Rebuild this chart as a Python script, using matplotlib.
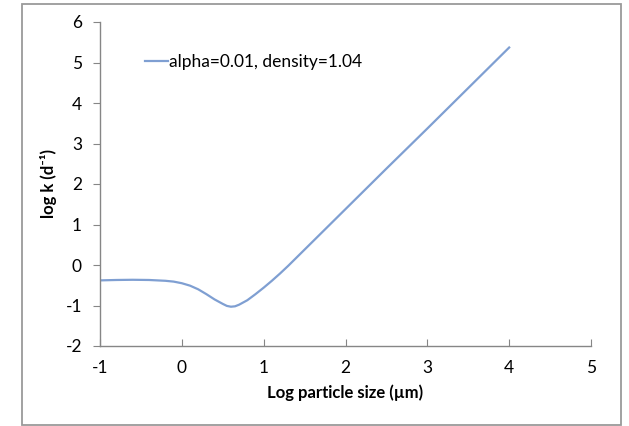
import matplotlib

matplotlib.use("Agg")
import matplotlib.patches as mpatches
import matplotlib.pyplot as plt

# log particle size (um) vs log k (1/d)
log_size = [-1.0, -0.8, -0.6, -0.4, -0.2, -0.1, 0.0, 0.1, 0.2, 0.3, 0.4, 0.5,
            0.55, 0.6, 0.65, 0.7, 0.8, 0.9, 1.0, 1.1, 1.2, 1.3, 1.4, 1.6, 1.8,
            2.0, 2.5, 3.0, 3.5, 4.0]
log_k = [-0.38, -0.37, -0.365, -0.37, -0.39, -0.41, -0.45, -0.51, -0.60,
         -0.72, -0.85, -0.96, -1.01, -1.03, -1.02, -0.98, -0.87, -0.72, -0.56,
         -0.39, -0.21, -0.02, 0.18, 0.58, 0.98, 1.38, 2.38, 3.37, 4.37, 5.37]
series_label = "alpha=0.01, density=1.04"
x_ticks = [-1, 0, 1, 2, 3, 4, 5]
y_ticks = [-2, -1, 0, 1, 2, 3, 4, 5, 6]

plt.rcParams.update({
    "font.family": ["Lato", "DejaVu Sans"],
    "font.size": 12,
    "axes.unicode_minus": False,
})

W, H = 629, 426
fig = plt.figure(figsize=(W / 100, H / 100), dpi=100)
ax = fig.add_axes([100 / W, 1 - 346 / H, 491 / W, 324 / H])

# outer chart frame
fig.patches.append(mpatches.Rectangle((22 / W, 1 - 425 / H), 599 / W, 421 / H,
                                      transform=fig.transFigure, fill=False,
                                      ec="#9a9a9a", lw=1.3))

ax.plot(log_size, log_k, color="#7f9fd2", lw=1.6, label=series_label,
        solid_joinstyle="round")

ax.set_xlim(-1, 5)
ax.set_ylim(-2, 6)
ax.set_xticks(x_ticks)
ax.set_yticks(y_ticks)
for s in ["top", "right"]:
    ax.spines[s].set_visible(False)
for s in ["left", "bottom"]:
    ax.spines[s].set_color("#868686")
    ax.spines[s].set_linewidth(1.0)
ax.tick_params(axis="y", direction="out", length=5, color="#868686",
               labelsize=12.5, pad=8)
ax.tick_params(axis="x", direction="in", length=5, color="#868686",
               labelsize=12.5, pad=10)

ax.set_xlabel("Log particle size (µm)", fontweight="bold", fontsize=12, labelpad=6)
ax.set_ylabel("log k (d⁻¹)", fontweight="bold", fontsize=12, labelpad=6)

ax.legend(loc="upper left", bbox_to_anchor=(0.06, 0.95), frameon=False,
          handlelength=1.3, handletextpad=0.1, fontsize=12.5)

fig.savefig("out.png", dpi=100, facecolor="white")
